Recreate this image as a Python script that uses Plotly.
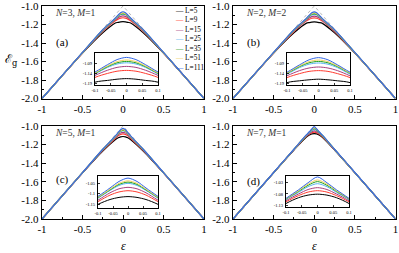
import plotly.graph_objects as go

# ---------------- data ----------------
EPS = [-1, -0.5, -0.25, -0.1, -0.06, -0.03, 0, 0.03, 0.06, 0.1, 0.25, 0.5, 1]
SIZES = ["L=5", "L=9", "L=15", "L=25", "L=35", "L=51", "L=111"]
COLORS = ["#000000", "#ff3b30", "#a8407e", "#5ab4f0", "#1fa01f", "#f0d060", "#3366e6"]

EXACT_X = [-1, 0, 1]
EXACT_Y = [-2.0, -1.0, -2.0]

PANEL_A = [
    [-2.0, -1.510, -1.290, -1.186, -1.177, -1.171, -1.168, -1.171, -1.177, -1.186, -1.290, -1.510, -2.0],
    [-2.0, -1.508, -1.275, -1.162, -1.142, -1.131, -1.127, -1.131, -1.142, -1.162, -1.275, -1.508, -2.0],
    [-2.0, -1.506, -1.268, -1.152, -1.126, -1.112, -1.107, -1.112, -1.126, -1.152, -1.268, -1.506, -2.0],
    [-2.0, -1.505, -1.262, -1.145, -1.112, -1.095, -1.089, -1.095, -1.112, -1.145, -1.262, -1.505, -2.0],
    [-2.0, -1.504, -1.260, -1.142, -1.108, -1.089, -1.082, -1.089, -1.108, -1.142, -1.260, -1.504, -2.0],
    [-2.0, -1.503, -1.258, -1.140, -1.104, -1.083, -1.075, -1.083, -1.104, -1.140, -1.258, -1.503, -2.0],
    [-2.0, -1.502, -1.255, -1.135, -1.098, -1.073, -1.062, -1.073, -1.098, -1.135, -1.255, -1.502, -2.0],
]
PANEL_B = [
    [-2.0, -1.510, -1.291, -1.188, -1.179, -1.174, -1.171, -1.174, -1.179, -1.188, -1.291, -1.510, -2.0],
    [-2.0, -1.508, -1.276, -1.163, -1.143, -1.132, -1.128, -1.132, -1.143, -1.163, -1.276, -1.508, -2.0],
    [-2.0, -1.506, -1.269, -1.154, -1.128, -1.115, -1.110, -1.115, -1.128, -1.154, -1.269, -1.506, -2.0],
    [-2.0, -1.505, -1.262, -1.146, -1.113, -1.096, -1.090, -1.096, -1.113, -1.146, -1.262, -1.505, -2.0],
    [-2.0, -1.504, -1.260, -1.142, -1.108, -1.089, -1.082, -1.089, -1.108, -1.142, -1.260, -1.504, -2.0],
    [-2.0, -1.503, -1.258, -1.140, -1.104, -1.083, -1.075, -1.083, -1.104, -1.140, -1.258, -1.503, -2.0],
    [-2.0, -1.502, -1.255, -1.136, -1.099, -1.074, -1.063, -1.074, -1.099, -1.136, -1.255, -1.502, -2.0],
]
PANEL_C = [
    [-2.0, -1.505, -1.270, -1.150, -1.127, -1.117, -1.113, -1.117, -1.127, -1.150, -1.270, -1.505, -2.0],
    [-2.0, -1.504, -1.262, -1.137, -1.106, -1.091, -1.085, -1.091, -1.106, -1.137, -1.262, -1.504, -2.0],
    [-2.0, -1.503, -1.258, -1.130, -1.095, -1.076, -1.069, -1.076, -1.095, -1.130, -1.258, -1.503, -2.0],
    [-2.0, -1.502, -1.254, -1.121, -1.084, -1.060, -1.050, -1.060, -1.084, -1.121, -1.254, -1.502, -2.0],
    [-2.0, -1.502, -1.253, -1.118, -1.081, -1.055, -1.044, -1.055, -1.081, -1.118, -1.253, -1.502, -2.0],
    [-2.0, -1.501, -1.252, -1.116, -1.078, -1.050, -1.038, -1.050, -1.078, -1.116, -1.252, -1.501, -2.0],
    [-2.0, -1.501, -1.250, -1.112, -1.072, -1.041, -1.025, -1.041, -1.072, -1.112, -1.250, -1.501, -2.0],
]
PANEL_D = [
    [-2.0, -1.503, -1.258, -1.121, -1.096, -1.085, -1.081, -1.085, -1.096, -1.121, -1.258, -1.503, -2.0],
    [-2.0, -1.502, -1.255, -1.114, -1.087, -1.072, -1.066, -1.072, -1.087, -1.114, -1.255, -1.502, -2.0],
    [-2.0, -1.502, -1.253, -1.109, -1.080, -1.061, -1.053, -1.061, -1.080, -1.109, -1.253, -1.502, -2.0],
    [-2.0, -1.501, -1.252, -1.104, -1.073, -1.049, -1.036, -1.049, -1.073, -1.104, -1.252, -1.501, -2.0],
    [-2.0, -1.501, -1.251, -1.102, -1.069, -1.043, -1.027, -1.043, -1.069, -1.102, -1.251, -1.501, -2.0],
    [-2.0, -1.501, -1.251, -1.101, -1.066, -1.038, -1.020, -1.038, -1.066, -1.101, -1.251, -1.501, -2.0],
    [-2.0, -1.500, -1.250, -1.099, -1.062, -1.032, -1.007, -1.032, -1.062, -1.099, -1.250, -1.500, -2.0],
]

PANEL_TEXT = ["<i>N</i>=3, <i>M</i>=1", "<i>N</i>=2, <i>M</i>=2",
              "<i>N</i>=5, <i>M</i>=1", "<i>N</i>=7, <i>M</i>=1"]
PANEL_TAGS = ["(a)", "(b)", "(c)", "(d)"]

X_TICKS = [-1, -0.5, 0, 0.5, 1]
X_TICKTEXT = ["-1", "-0.5", "0", "0.5", "1"]
Y_TICKS = [-2.0, -1.8, -1.6, -1.4, -1.2, -1.0]
Y_TICKTEXT = ["-2.0", "-1.8", "-1.6", "-1.4", "-1.2", "-1.0"]

INSET_X_TICKS = [-0.1, -0.05, 0, 0.05, 0.1]
INSET_X_TICKTEXT = ["-0.1", "-0.05", "0", "0.05", "0.1"]
INSET_Y_TICKS = [[-1.19, -1.14, -1.09], [-1.19, -1.14, -1.09],
                 [-1.15, -1.10, -1.05], [-1.13, -1.08, -1.03]]
INSET_Y_TICKTEXT = [["-1.19", "-1.14", "-1.09"], ["-1.19", "-1.14", "-1.09"],
                    ["-1.15", "-1.1", "-1.05"], ["-1.13", "-1.08", "-1.03"]]
INSET_Y_RANGE = [[-1.20, -1.04], [-1.20, -1.04], [-1.165, -1.015], [-1.136, -1.003]]

# ---------------- layout geometry ----------------
W, H = 399, 253
def px_x(a, b):
    return [a / W, b / W]
def px_y(top, bottom):
    return [1 - bottom / H, 1 - top / H]

MAIN_DOM = [
    (px_x(42, 204), px_y(6, 98.5)),
    (px_x(233, 395.5), px_y(6, 98.5)),
    (px_x(42, 204), px_y(126, 219)),
    (px_x(233, 395.5), px_y(126, 219)),
]
INSET_DOM = [
    (px_x(95, 158), px_y(53, 85)),
    (px_x(287, 350), px_y(53, 85)),
    (px_x(98, 158), px_y(176, 207.5)),
    (px_x(286, 349), px_y(176, 207)),
]

SERIF = "Liberation Serif"
panels = [PANEL_A, PANEL_B, PANEL_C, PANEL_D]

fig = go.Figure()

for p in range(4):
    xa = "x" if p == 0 else f"x{p+1}"
    ya = "y" if p == 0 else f"y{p+1}"
    xi = f"x{p+5}"
    yi = f"y{p+5}"
    fig.add_trace(go.Scatter(x=EXACT_X, y=EXACT_Y, mode="lines", xaxis=xa, yaxis=ya,
                             line=dict(color="#b8b8b8", width=1, dash="dot"),
                             showlegend=False, hoverinfo="skip"))
    for k, series in enumerate(panels[p]):
        fig.add_trace(go.Scatter(x=EPS, y=series, mode="lines", xaxis=xa, yaxis=ya,
                                 line=dict(color=COLORS[k], width=1.2, shape="spline", smoothing=0.8),
                                 name=SIZES[k], showlegend=False))
        fig.add_trace(go.Scatter(x=EPS, y=series, mode="lines", xaxis=xi, yaxis=yi,
                                 line=dict(color=COLORS[k], width=1, shape="spline", smoothing=0.8),
                                 name=SIZES[k], showlegend=False))

layout = dict(
    template="none",
    width=W, height=H, autosize=False,
    margin=dict(l=0, r=0, t=0, b=0, pad=0),
    paper_bgcolor="white", plot_bgcolor="white",
    showlegend=False,
    font=dict(family=SERIF, color="black"),
)

for p in range(4):
    sx = "" if p == 0 else str(p + 1)
    xd, yd = MAIN_DOM[p]
    layout["xaxis" + sx] = dict(
        domain=xd, anchor="y" + sx, range=[-1, 1], automargin=False,
        tickmode="array", tickvals=X_TICKS, ticktext=X_TICKTEXT,
        ticks="inside", ticklen=4, tickwidth=1, tickcolor="black",
        minor=dict(tickmode="linear", tick0=-1, dtick=0.25, ticks="inside", ticklen=2, tickcolor="black"),
        showline=True, linecolor="black", linewidth=1.2, mirror=True,
        showgrid=False, zeroline=False, ticklabeloverflow="allow",
        tickfont=dict(family=SERIF, size=11, color="black"),
    )
    layout["yaxis" + sx] = dict(
        domain=yd, anchor="x" + sx, range=[-2.0, -1.0], automargin=False,
        tickmode="array", tickvals=Y_TICKS, ticktext=Y_TICKTEXT,
        ticks="inside", ticklen=4, tickwidth=1, tickcolor="black",
        minor=dict(tickmode="linear", tick0=-2, dtick=0.1, ticks="inside", ticklen=2, tickcolor="black"),
        showline=True, linecolor="black", linewidth=1.2, mirror=True,
        showgrid=False, zeroline=False, ticklabeloverflow="allow",
        tickfont=dict(family=SERIF, size=11, color="black"),
    )
    si = str(p + 5)
    xd, yd = INSET_DOM[p]
    layout["xaxis" + si] = dict(
        domain=xd, anchor="y" + si, range=[-0.1, 0.1], automargin=False,
        tickmode="array", tickvals=INSET_X_TICKS, ticktext=INSET_X_TICKTEXT,
        ticks="inside", ticklen=2, tickwidth=0.8, tickcolor="black",
        showline=True, linecolor="black", linewidth=1, mirror=True,
        showgrid=False, zeroline=False, ticklabelstandoff=1, ticklabeloverflow="allow",
        tickfont=dict(family=SERIF, size=4.5, color="black"),
    )
    layout["yaxis" + si] = dict(
        domain=yd, anchor="x" + si, range=INSET_Y_RANGE[p], automargin=False,
        tickmode="array", tickvals=INSET_Y_TICKS[p], ticktext=INSET_Y_TICKTEXT[p],
        ticks="inside", ticklen=2, tickwidth=0.8, tickcolor="black",
        showline=True, linecolor="black", linewidth=1, mirror=True,
        showgrid=False, zeroline=False, ticklabelstandoff=1, ticklabeloverflow="allow",
        tickfont=dict(family=SERIF, size=4.5, color="black"),
    )

fig.update_layout(**layout)

annotations = []
TAG_Y = [-1.40, -1.40, -1.58, -1.60]
for p in range(4):
    sx = "" if p == 0 else str(p + 1)
    annotations.append(dict(x=-0.87, y=-1.075, xref="x" + sx, yref="y" + sx,
                            text=PANEL_TEXT[p], showarrow=False, xanchor="left", yanchor="middle",
                            font=dict(family=SERIF, size=9.5, color="#333333")))
    annotations.append(dict(x=-0.75, y=TAG_Y[p], xref="x" + sx, yref="y" + sx,
                            text=PANEL_TAGS[p], showarrow=False, xanchor="center", yanchor="middle",
                            font=dict(family=SERIF, size=11, color="black")))

# legend (panel a)
legend_lines = [f"<span style='color:{COLORS[k]}'>—</span> {SIZES[k]}" for k in range(7)]
annotations.append(dict(x=174 / W, y=1 - 5 / H, xref="paper", yref="paper",
                        text="<br>".join(legend_lines), showarrow=False, align="left",
                        xanchor="left", yanchor="top", borderpad=0,
                        font=dict(family=SERIF, size=7.3, color="black")))

# axis titles
annotations.append(dict(x=11 / W, y=1 - 60 / H, xref="paper", yref="paper",
                        text="ℰ<sub>g</sub>", showarrow=False,
                        xanchor="center", yanchor="middle",
                        font=dict(family="DejaVu Serif", size=12, color="black")))
for sx in ["3", "4"]:
    annotations.append(dict(x=0, y=1 - 246 / H, xref="x" + sx, yref="paper",
                            text="<i>ε</i>", showarrow=False,
                            xanchor="center", yanchor="middle",
                            font=dict(family=SERIF, size=12, color="black")))

fig.update_layout(annotations=annotations)
fig.write_html("out.html",
               config={"displayModeBar": False, "staticPlot": True},
               post_script="document.body.style.margin='0px';")
